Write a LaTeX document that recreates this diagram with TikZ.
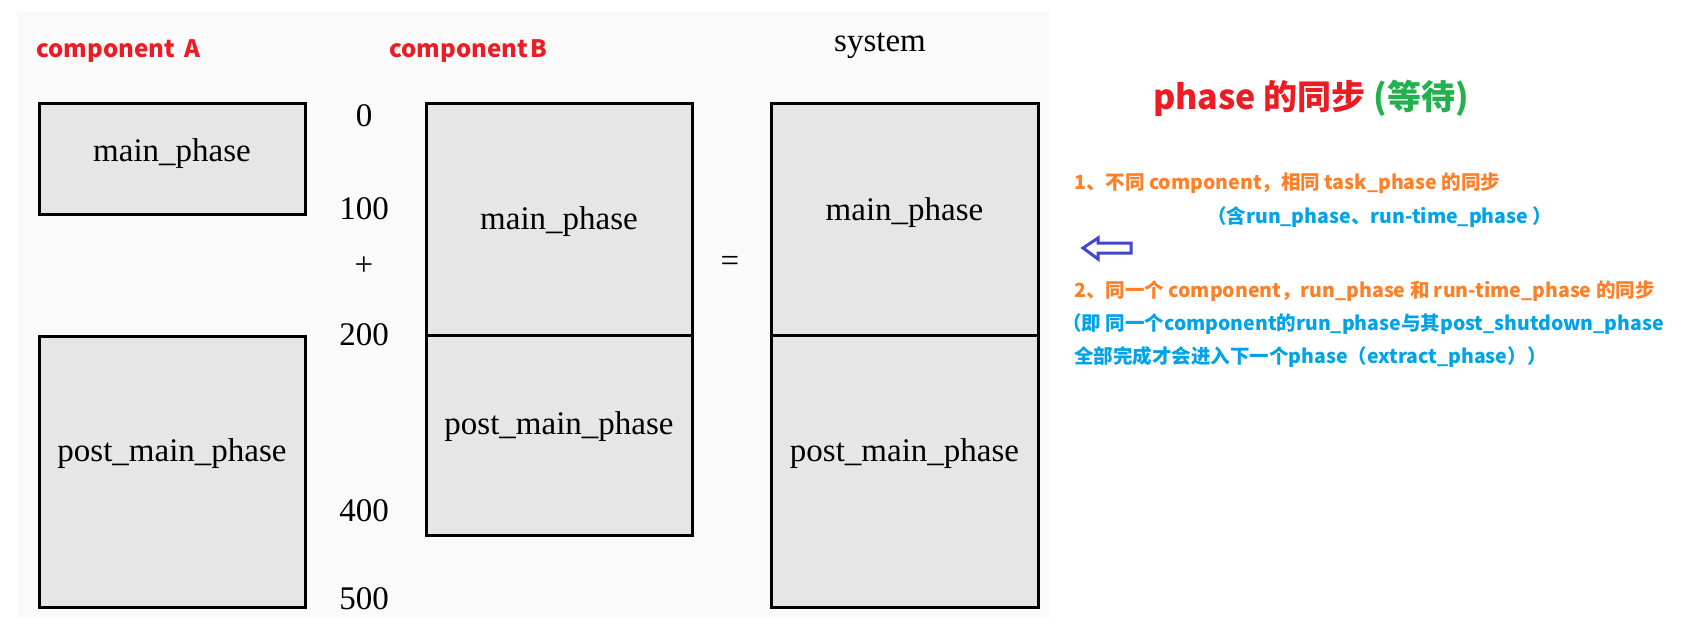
\documentclass[tikz,border=0pt]{standalone}
\usepackage{fontspec}
\setmainfont{Liberation Serif}
\newfontfamily\cjk{Noto Sans CJK SC}
\definecolor{pred}{HTML}{ED1C24}
\definecolor{pgreen}{HTML}{22B14C}
\definecolor{porange}{HTML}{FF7F27}
\definecolor{pblue}{HTML}{00A2E8}
\definecolor{pindigo}{HTML}{3F48CC}
\definecolor{boxgray}{HTML}{E6E6E6}
\definecolor{bggray}{HTML}{FAFAFA}
\begin{document}
\begin{tikzpicture}[x=1pt,y=-1pt,
  phasebox/.style={draw=black,line width=3pt,fill=boxgray,inner sep=0pt},
  serif/.style={font=\fontsize{33}{36}\selectfont,inner sep=0pt},
  comp/.style={font=\cjk\bfseries\fontsize{24}{28}\selectfont,text=pred,inner sep=0pt,anchor=west},
  note/.style={font=\cjk\bfseries\fontsize{19.5}{23}\selectfont,inner sep=0pt,anchor=west}]
\useasboundingbox (0,0) rectangle (1698,630);
\fill[bggray] (17,12) rectangle (1050,618);
% component A
\node[phasebox,minimum width=266pt,minimum height=111pt] (amain) at (172,158.5) {};
\node[serif] (amaint) at (172,154) {main\_phase};
\node[phasebox,minimum width=266pt,minimum height=271pt] (apost) at (172,471.5) {};
\node[serif] (apostt) at (172,454) {post\_main\_phase};
% component B
\node[phasebox,minimum width=266pt,minimum height=232pt] (bmain) at (559,219) {};
\node[serif] (bmaint) at (559,222) {main\_phase};
\node[phasebox,minimum width=266pt,minimum height=200pt] (bpost) at (559,435) {};
\node[serif] (bpostt) at (559,427) {post\_main\_phase};
% system
\node[phasebox,minimum width=267pt,minimum height=232pt] (smain) at (904.5,219) {};
\node[serif] (smaint) at (904.5,213) {main\_phase};
\node[phasebox,minimum width=267pt,minimum height=272pt] (spost) at (904.5,471) {};
\node[serif] (spostt) at (904.5,454) {post\_main\_phase};
% numbers
\node[serif] (n0) at (364,116) {0};
\node[serif] (n100) at (364,209) {100};
\node[serif] (plus) at (364,266) {+};
\node[serif] (n200) at (364,335) {200};
\node[serif] (n400) at (364,511) {400};
\node[serif] (n500) at (364,599) {500};
\node[serif] (eq) at (730,264) {=};
\node[serif] (sys) at (880,46) {system};
% component labels
\node[comp] (compa) at (36,51) {component\hspace{10pt}A};
\node[comp] (compb) at (389,51) {component\hspace{3pt}B};
% right side
\node[font=\cjk\bfseries\fontsize{34}{38}\selectfont,inner sep=0pt] (title) at (1311,98)
  {\textcolor{pred}{phase 的同步} \textcolor{pgreen}{(等待)}};
\node[note,text=porange] (l1) at (1074,183) {1、不同 component，相同 task\_phase 的同步};
\node[note,text=pblue] (l2) at (1207,217) {（含run\_phase、run-time\_phase ）};
\node[note,text=porange] (l3) at (1074,291) {2、同一个 component，run\_phase 和 run-time\_phase 的同步};
\node[note,text=pblue] (l4) at (1062,324) {（即 同一个component的run\_phase与其post\_shutdown\_phase};
\node[note,text=pblue] (l5) at (1074,357) {全部完成才会进入下一个phase（extract\_phase））};
\draw[pindigo,line width=3pt,fill=white,line join=miter]
  (1083,248) -- (1098,238) -- (1098,243) -- (1131,243) -- (1131,253) -- (1098,253) -- (1098,259) -- cycle;
\end{tikzpicture}
\end{document}
